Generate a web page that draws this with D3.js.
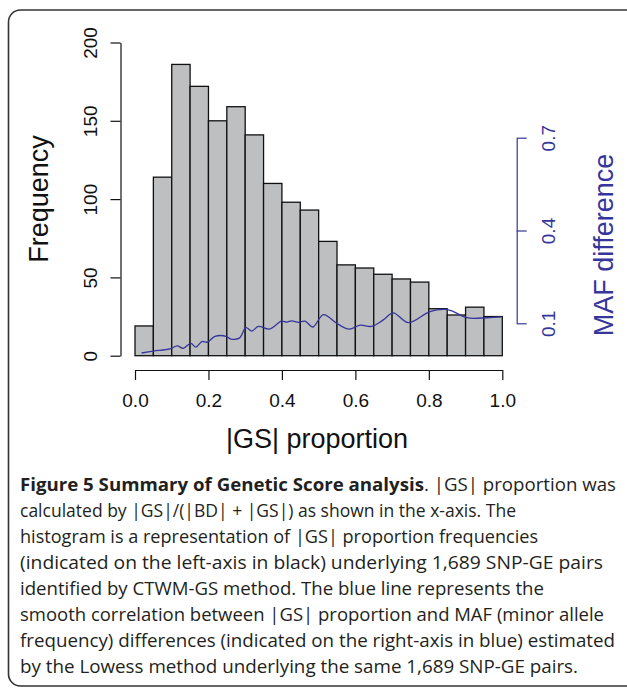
<!DOCTYPE html>
<html>
<head>
<meta charset="utf-8">
<script src="https://cdn.jsdelivr.net/npm/d3@7"></script>
<style>
  html, body { margin: 0; padding: 0; background: #fff; }
  .tick text { font-family: "Liberation Sans", Arial, sans-serif; }
</style>
</head>
<body>
<div id="viz"></div>
<script>
const width = 627;
const height = 688;

// histogram: 20 bins of width 0.05 over |GS| proportion
const binStarts = [0, 0.05, 0.1, 0.15, 0.2, 0.25, 0.3, 0.35, 0.4, 0.45,
                   0.5, 0.55, 0.6, 0.65, 0.7, 0.75, 0.8, 0.85, 0.9, 0.95];
const binWidth = 0.05;
const counts = [19, 114, 186, 172, 150, 159, 141, 110, 98, 93,
                73, 58, 56, 52, 49, 47, 30, 26, 31, 25];

// lowess line (MAF difference)
const mafX = [0.018, 0.050, 0.095, 0.115, 0.131, 0.152, 0.166, 0.182, 0.197, 0.218,
              0.250, 0.259, 0.284, 0.302, 0.318, 0.336, 0.366, 0.399, 0.413, 0.427,
              0.445, 0.463, 0.484, 0.513, 0.549, 0.583, 0.613, 0.644, 0.676, 0.703,
              0.744, 0.803, 0.844, 0.867, 0.903, 0.958, 0.998];
const mafY = [0.004, 0.010, 0.017, 0.027, 0.019, 0.035, 0.023, 0.041, 0.039, 0.058,
              0.057, 0.050, 0.052, 0.086, 0.075, 0.090, 0.081, 0.107, 0.104, 0.108,
              0.103, 0.107, 0.088, 0.128, 0.100, 0.081, 0.094, 0.090, 0.111, 0.134,
              0.102, 0.138, 0.145, 0.138, 0.118, 0.118, 0.121];

const xTicks = [0, 0.2, 0.4, 0.6, 0.8, 1.0];
const yTicks = [0, 50, 100, 150, 200];
const y2Ticks = [0.1, 0.4, 0.7];

const captionLines = [
  [["Figure 5 Summary of Genetic Score analysis", true], [". |GS| proportion was", false]],
  [["calculated by |GS|/(|BD| + |GS|) as shown in the x-axis. The", false]],
  [["histogram is a representation of |GS| proportion frequencies", false]],
  [["(indicated on the left-axis in black) underlying 1,689 SNP-GE pairs", false]],
  [["identified by CTWM-GS method. The blue line represents the", false]],
  [["smooth correlation between |GS| proportion and MAF (minor allele", false]],
  [["frequency) differences (indicated on the right-axis in blue) estimated", false]],
  [["by the Lowess method underlying the same 1,689 SNP-GE pairs.", false]]
];
const captionWidths = [596, 496, 518, 583, 524, 584, 595, 558];

const blue = "#35359c";

const svg = d3.select("#viz")
    .append("svg")
    .attr("width", width)
    .attr("height", height)
    .attr("viewBox", `0 0 ${width} ${height}`);

// rounded frame (right side runs off the page)
svg.append("rect")
    .attr("x", 8.5)
    .attr("y", 10)
    .attr("width", 660)
    .attr("height", 676)
    .attr("rx", 12)
    .attr("fill", "none")
    .attr("stroke", "#333")
    .attr("stroke-width", 1.6);

const xScale = d3.scaleLinear().domain([0, 1]).range([135, 502.3]);
const yScale = d3.scaleLinear().domain([0, 200]).range([355.7, 42.5]);
const y2Scale = d3.scaleLinear().domain([0.1, 0.7]).range([323.3, 137.7]);

// bars
svg.append("g")
    .selectAll("rect")
    .data(counts)
    .enter()
    .append("rect")
    .attr("x", (d, i) => xScale(binStarts[i]))
    .attr("y", d => yScale(d))
    .attr("width", (d, i) => xScale(binStarts[i] + binWidth) - xScale(binStarts[i]))
    .attr("height", d => yScale(0) - yScale(d))
    .attr("fill", "#bebfc1")
    .attr("stroke", "#111")
    .attr("stroke-width", 1.3);

// lowess line
const line = d3.line()
    .curve(d3.curveCatmullRom)
    .x((d, i) => xScale(mafX[i]))
    .y(d => y2Scale(d));

svg.append("path")
    .attr("d", line(mafY))
    .attr("fill", "none")
    .attr("stroke", blue)
    .attr("stroke-width", 1.3);

// x axis
const xAxisG = svg.append("g")
    .attr("transform", "translate(0, 370)")
    .call(d3.axisBottom(xScale)
        .tickValues(xTicks)
        .tickFormat(d3.format(".1f"))
        .tickSize(10)
        .tickSizeOuter(0));
xAxisG.selectAll("line, path").attr("stroke", "#111").attr("stroke-width", 1.2);
xAxisG.selectAll("text")
    .attr("font-size", 19)
    .attr("fill", "#111")
    .attr("y", 37)
    .attr("dy", 0);

// left axis
const yAxisG = svg.append("g")
    .attr("transform", "translate(120.5, 0)")
    .call(d3.axisLeft(yScale)
        .tickValues(yTicks)
        .tickSize(10)
        .tickSizeOuter(0));
yAxisG.selectAll("line, path").attr("stroke", "#111").attr("stroke-width", 1.2);
yAxisG.selectAll("text")
    .attr("font-size", 19)
    .attr("fill", "#111")
    .attr("transform", "rotate(-90)")
    .attr("text-anchor", "middle")
    .attr("x", 0)
    .attr("y", -24)
    .attr("dy", 0);

// right axis
const y2AxisG = svg.append("g")
    .attr("transform", "translate(516.7, 0)")
    .call(d3.axisRight(y2Scale)
        .tickValues(y2Ticks)
        .tickFormat(d3.format(".1f"))
        .tickSize(10)
        .tickSizeOuter(0));
y2AxisG.selectAll("line, path").attr("stroke", blue).attr("stroke-width", 1.2);
y2AxisG.selectAll("text")
    .attr("font-size", 19)
    .attr("fill", blue)
    .attr("transform", "rotate(-90)")
    .attr("text-anchor", "middle")
    .attr("x", 0)
    .attr("y", 38)
    .attr("dy", 0);

// axis titles
svg.append("text")
    .attr("transform", "translate(48, 199) rotate(-90)")
    .attr("text-anchor", "middle")
    .attr("font-family", "Liberation Sans, Arial, sans-serif")
    .attr("font-size", 27)
    .attr("fill", "#111")
    .text("Frequency");

svg.append("text")
    .attr("x", 317)
    .attr("y", 448)
    .attr("text-anchor", "middle")
    .attr("font-family", "Liberation Sans, Arial, sans-serif")
    .attr("font-size", 27)
    .attr("fill", "#111")
    .text("|GS| proportion");

svg.append("text")
    .attr("transform", "translate(613, 245) rotate(-90)")
    .attr("text-anchor", "middle")
    .attr("font-family", "Liberation Sans, Arial, sans-serif")
    .attr("font-size", 27)
    .attr("fill", blue)
    .text("MAF difference");

// caption
const caption = svg.append("g")
    .attr("font-family", "Open Sans, sans-serif")
    .attr("font-size", 18)
    .attr("fill", "#231f20");

captionLines.forEach((parts, i) => {
    const t = caption.append("text")
        .attr("x", 20)
        .attr("y", 491 + i * 26)
        .attr("textLength", captionWidths[i])
        .attr("lengthAdjust", "spacingAndGlyphs");
    parts.forEach(p => {
        t.append("tspan")
            .attr("font-weight", p[1] ? "bold" : "normal")
            .text(p[0]);
    });
});
</script>
</body>
</html>
